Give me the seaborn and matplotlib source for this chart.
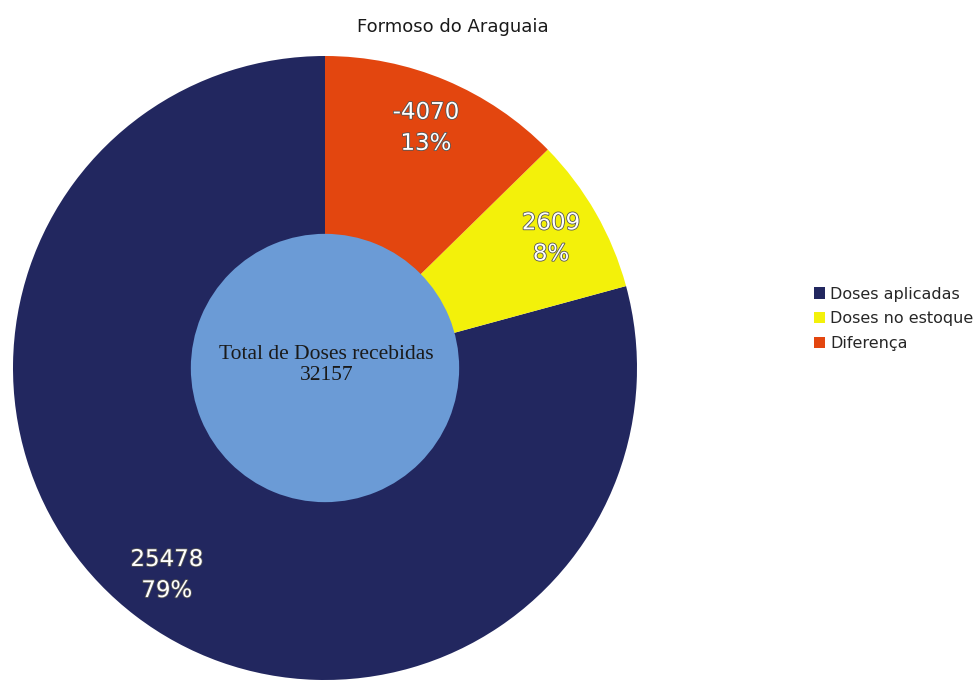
import matplotlib
matplotlib.use("Agg")
import matplotlib.pyplot as plt
import matplotlib.patches as mpatches
import matplotlib.patheffects as pe
import seaborn as sns

sns.set_theme(style="white")
plt.rcParams['font.family'] = ['DejaVu Sans']

title = "Formoso do Araguaia"
categories = ["Doses aplicadas", "Doses no estoque", "Diferença"]
display_values = [25478, 2609, -4070]
slice_sizes = [25478, 2609, 4070]
percent_labels = ["79%", "8%", "13%"]
total_label = "Total de Doses recebidas"
total_value = 32157
colors = ["#22275f", "#f3f10a", "#e3460f"]
inner_color = "#6b9bd6"

fig = plt.figure(figsize=(9.79, 6.8), dpi=100)
ax = fig.add_axes([13 / 979, 0 / 680, 624 / 979, 624 / 680])

labels = [f"{v}\n{p}" for v, p in zip(display_values, percent_labels)]
wedges, texts = ax.pie(slice_sizes, colors=colors, startangle=90, counterclock=True,
                       labels=labels, labeldistance=0.835, radius=1.0,
                       wedgeprops=dict(linewidth=0, edgecolor="none"),
                       textprops=dict(color="white", fontsize=16.5, ha="center", va="center",
                                      linespacing=1.45))
for t in texts:
    t.set_horizontalalignment("center")
    t.set_path_effects([pe.withStroke(linewidth=1.2, foreground="#555555")])

ax.pie([total_value], colors=[inner_color], radius=0.43, startangle=90,
       wedgeprops=dict(linewidth=0, edgecolor="none"))
ax.text(0.005, 0.01, f"{total_label}\n{total_value}", ha="center", va="center",
        fontsize=15.5, family="Liberation Serif", color="#1a1a1a", linespacing=1.15)

ax.set_xlim(-1, 1)
ax.set_ylim(-1, 1)
ax.set_aspect("equal")
ax.axis("off")

fig.text(453 / 979, 1 - 27 / 680, title, ha="center", va="center", fontsize=13, color="#1a1a1a")

handles = [mpatches.Patch(facecolor=c, edgecolor="none", label=l) for c, l in zip(colors, categories)]
fig.legend(handles=handles, loc="center left", bbox_to_anchor=(814 / 979, 1 - 319 / 680),
           frameon=False, fontsize=11.5, handlelength=0.7, handleheight=0.7,
           handletextpad=0.3, labelspacing=0.62, borderaxespad=0, borderpad=0)

fig.savefig("out.png", dpi=100, facecolor="white")
